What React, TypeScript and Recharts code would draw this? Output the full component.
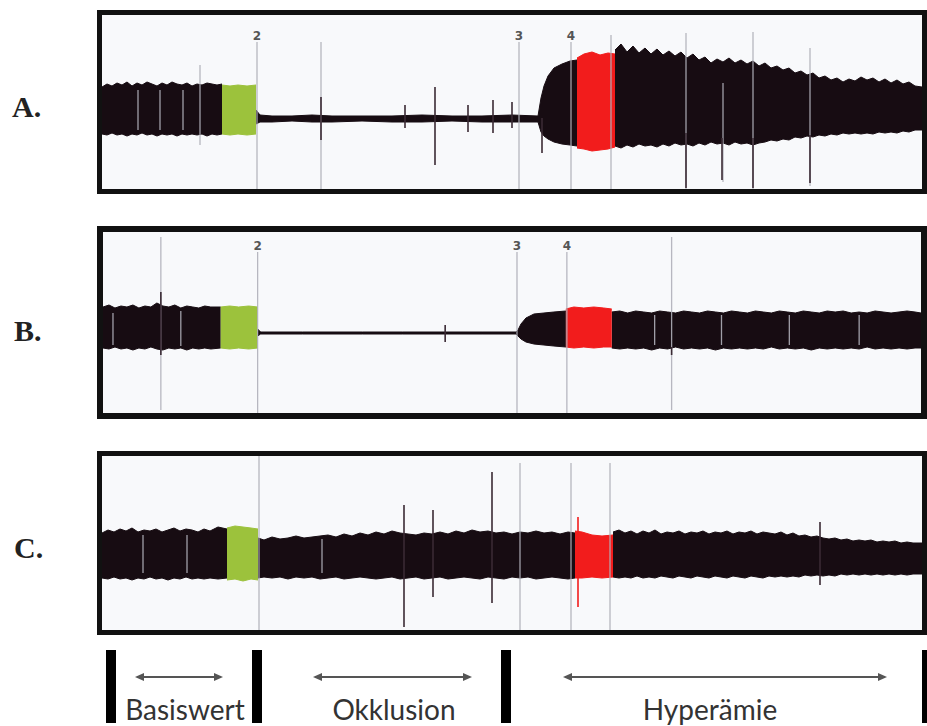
import React from 'react';
import { ComposedChart, Area, XAxis, YAxis, ReferenceLine, ReferenceDot } from 'recharts';

type Pt = [number, number, number]; // [time, low, high] amplitude envelope
type Seg = [number, number, number]; // [time, top, bottom]

// ---------------- Panel A ----------------
const A_BASE: Pt[] = [[0,-16,31],[5,-17,34],[10,-15,32],[15,-17,35],[20,-16,33],[25,-18,36],[30,-16,32],[35,-17,35],[40,-15,33],[45,-17,36],[50,-16,34],[55,-18,32],[60,-16,35],[65,-17,33],[70,-16,36],[75,-18,34],[80,-16,33],[85,-17,35],[90,-16,32],[95,-17,34],[100,-16,33],[105,-18,35],[110,-16,34],[115,-17,33],[120,-16,34]];
const A_GREEN: Pt[] = [[120,-16,33],[128,-17,32],[136,-16,33],[145,-17,32],[154,-16,33]];
const A_OCCL: Pt[] = [[154,-6,8],[158,-4,3],[170,-4,2],[190,-3,2],[210,-4,3],[230,-4,2],[260,-3,2],[290,-4,2],[320,-4,3],[350,-3,2],[380,-4,2],[410,-4,3],[436,-4,2],[439,-14,20],[442,-18,32],[446,-21,42],[452,-24,50],[460,-26,54],[468,-27,57],[475,-28,58]];
const A_RED: Pt[] = [[475,-30,60],[482,-31,64],[490,-33,66],[498,-32,63],[506,-31,65],[513,-29,64]];
const A_HYPER: Pt[] = [[513,-28,68],[519,-30,74],[525,-27,66],[531,-29,72],[537,-26,65],[543,-28,70],[549,-27,64],[555,-29,69],[561,-26,63],[567,-28,67],[573,-25,62],[579,-27,66],[585,-26,60],[591,-28,64],[597,-25,58],[603,-27,61],[609,-24,55],[615,-26,59],[621,-25,56],[627,-27,60],[633,-24,55],[639,-26,58],[645,-25,54],[651,-27,57],[657,-25,52],[663,-24,55],[669,-22,50],[675,-23,52],[681,-21,48],[687,-22,50],[693,-19,45],[699,-20,47],[705,-18,43],[711,-19,45],[717,-17,40],[723,-18,42],[729,-16,38],[735,-17,40],[741,-15,36],[747,-16,39],[753,-15,37],[759,-16,41],[765,-15,38],[771,-16,40],[777,-14,36],[783,-15,39],[789,-14,35],[795,-15,38],[801,-13,34],[807,-14,36],[813,-12,32],[820,-12,31]];
const A_EVENTS: Seg[] = [[98,53,-27],[219,76,-71],[509,83,-71],[584,85,-71],[621,35,-64],[651,86,-71],[708,70,-68],[36,28,-12],[58,28,-12],[81,28,-12]];
const A_MARKERS: [number, string][] = [[155,'2'],[417,'3'],[469,'4']];
const A_SPIKES: Seg[] = [[219,21,-22],[303,13,-10],[333,31,-47],[366,13,-14],[391,18,-15],[410,16,-10],[440,0,-35],[584,-15,-70],[620,-20,-62],[651,-20,-70],[708,-17,-65]];

// ---------------- Panel B ----------------
const B_BASE: Pt[] = [[0,-15,26],[6,-16,28],[12,-14,25],[18,-16,27],[24,-15,26],[30,-17,28],[36,-15,25],[42,-16,27],[48,-14,26],[54,-16,30],[60,-17,27],[66,-15,26],[72,-16,28],[78,-15,25],[84,-17,27],[90,-15,26],[96,-16,25],[102,-15,27],[108,-16,26],[118,-15,26]];
const B_GREEN: Pt[] = [[118,-15,26],[127,-16,27],[136,-15,26],[146,-16,27],[155,-15,26]];
const B_OCCL: Pt[] = [[155,-3,4],[158,-1,1],[200,-1,1],[260,-1,1],[300,-1,1],[343,-1,1],[380,-1,1],[414,-1,1],[416,-3,3],[419,-6,9],[424,-9,15],[432,-11,19],[442,-12,20],[452,-13,21],[464,-14,22]];
const B_RED: Pt[] = [[464,-14,24],[472,-15,26],[482,-14,25],[492,-15,26],[502,-14,25],[510,-14,24]];
const B_HYPER: Pt[] = [[510,-15,21],[518,-16,22],[526,-15,20],[534,-16,22],[542,-15,21],[550,-17,20],[558,-15,22],[566,-16,21],[574,-14,20],[582,-16,22],[590,-15,21],[598,-16,20],[606,-15,22],[614,-17,21],[622,-15,20],[630,-16,22],[638,-15,21],[646,-16,20],[654,-15,22],[662,-16,21],[670,-14,20],[678,-16,22],[686,-15,21],[694,-16,20],[702,-15,22],[710,-17,21],[718,-15,20],[726,-16,22],[734,-15,21],[742,-16,22],[750,-15,20],[758,-16,21],[766,-14,20],[774,-16,22],[782,-15,21],[790,-16,20],[798,-15,21],[806,-16,22],[814,-15,21],[820,-15,20]];
const B_EVENTS: Seg[] = [[58,96,-77],[570,96,-77],[10,20,-12],[78,22,-13],[553,18,-12],[620,18,-12],[688,18,-12],[758,18,-12]];
const B_MARKERS: [number, string][] = [[155,'2'],[415,'3'],[465,'4']];
const B_SPIKES: Seg[] = [[58,41,-22],[343,8,-9],[570,-14,-22]];

// ---------------- Panel C ----------------
const C_BASE: Pt[] = [[0,-25,20],[6,-26,23],[12,-24,21],[18,-26,24],[24,-25,22],[30,-27,25],[36,-25,21],[42,-26,23],[48,-24,22],[54,-26,24],[60,-25,21],[66,-27,23],[72,-25,25],[78,-26,22],[84,-24,24],[90,-26,23],[96,-25,21],[102,-26,24],[108,-25,22],[116,-26,26],[125,-25,24]];
const C_GREEN: Pt[] = [[125,-27,25],[133,-26,27],[141,-28,26],[149,-26,25],[156,-27,24]];
const C_MID: Pt[] = [[156,-25,15],[162,-24,13],[170,-25,16],[178,-24,14],[186,-26,15],[194,-24,17],[202,-25,15],[210,-24,16],[218,-26,17],[226,-25,18],[234,-24,16],[242,-26,19],[250,-25,17],[258,-24,20],[266,-25,18],[274,-26,21],[282,-25,19],[290,-24,22],[298,-26,20],[306,-25,19],[314,-24,18],[322,-26,20],[330,-25,19],[338,-24,21],[346,-26,19],[354,-25,22],[362,-24,20],[370,-25,23],[378,-26,21],[386,-24,22],[394,-25,20],[402,-26,21],[410,-24,19],[418,-25,21],[426,-24,20],[434,-26,22],[442,-25,20],[450,-24,21],[458,-25,19],[466,-26,21],[473,-25,20]];
const C_RED: Pt[] = [[473,-25,22],[480,-25,21],[490,-24,18],[500,-25,17],[511,-24,18]];
const C_HYPER: Pt[] = [[511,-24,21],[517,-25,23],[523,-24,20],[529,-25,22],[535,-23,19],[541,-25,22],[547,-24,20],[553,-25,23],[559,-23,19],[565,-24,21],[571,-25,20],[577,-23,22],[583,-24,19],[589,-25,21],[595,-23,20],[601,-24,22],[607,-25,19],[613,-23,21],[619,-24,20],[625,-25,22],[631,-23,19],[637,-24,21],[643,-25,20],[649,-23,22],[655,-24,19],[661,-25,21],[667,-23,20],[673,-24,19],[679,-23,21],[685,-24,18],[691,-23,20],[697,-24,17],[703,-22,18],[709,-23,16],[715,-22,17],[721,-23,15],[727,-22,14],[733,-23,15],[739,-21,13],[745,-22,14],[751,-21,12],[757,-22,13],[763,-21,12],[769,-22,13],[775,-21,11],[781,-22,12],[787,-21,11],[793,-22,12],[799,-21,10],[805,-22,11],[811,-21,10],[820,-21,10]];
const C_EVENTS: Seg[] = [[157,97,-77],[418,90,-77],[469,90,-77],[508,90,-77],[41,18,-20],[85,18,-20],[220,14,-20]];
const C_MARKERS: [number, string][] = [];
const C_SPIKES: Seg[] = [[302,48,-74],[331,43,-44],[390,81,-50],[718,31,-32]];
const C_RED_SPIKES: Seg[] = [[476,36,-54]];

// ---------------- Phases ----------------
const PHASE_NAMES = ['Basiswert', 'Okklusion', 'Hyperämie'];
const PHASE_BOUNDS = [9, 155, 404, 825];
const PHASE_ARROWS: [number, number][] = [[33, 121], [211, 370], [461, 785]];
const PHASE_LABEL_AT = [83, 292, 608];

const PANEL_LABELS = ['A.', 'B.', 'C.'];

function mergeRows(series: Record<string, Pt[][]>) {
  const map = new Map<number, any>();
  for (const [key, parts] of Object.entries(series)) {
    for (const part of parts) {
      for (const [t, lo, hi] of part) {
        const row = map.get(t) ?? { t };
        row[key] = [lo, hi];
        map.set(t, row);
      }
    }
  }
  return [...map.values()].sort((a, b) => a.t - b.t);
}

const INK = '#170c12';
const GREEN = '#9cc23c';
const RED = '#f21c1c';
const EVENT = 'rgba(175,175,185,0.9)';

type PanelProps = {
  rows: any[];
  yDomain: [number, number];
  events: Seg[];
  markers: [number, string][];
  markerTop: number;
  spikes: Seg[];
  redSpikes?: Seg[];
  width: number;
  height: number;
};

function Panel({ rows, yDomain, events, markers, markerTop, spikes, redSpikes = [], width, height }: PanelProps) {
  return (
    <ComposedChart width={width} height={height} data={rows} margin={{ top: 0, right: 0, bottom: 0, left: 0 }}>
      <XAxis type="number" dataKey="t" domain={[0, 820]} hide allowDataOverflow />
      <YAxis type="number" domain={yDomain} hide allowDataOverflow />
      <Area dataKey="black" type="linear" stroke={INK} strokeWidth={1} fill={INK} fillOpacity={1} isAnimationActive={false} dot={false} activeDot={false} />
      <Area dataKey="green" type="linear" stroke={GREEN} strokeWidth={1} fill={GREEN} fillOpacity={1} isAnimationActive={false} dot={false} activeDot={false} />
      <Area dataKey="red" type="linear" stroke={RED} strokeWidth={1} fill={RED} fillOpacity={1} isAnimationActive={false} dot={false} activeDot={false} />
      {events.map(([t, top, bot], i) => (
        <ReferenceLine key={'e' + i} segment={[{ x: t, y: top }, { x: t, y: bot }]} stroke={EVENT} strokeWidth={1.3} ifOverflow="visible" />
      ))}
      {markers.map(([t, label], i) => (
        <ReferenceLine
          key={'m' + i}
          segment={[{ x: t, y: markerTop }, { x: t, y: yDomain[0] }]}
          stroke={EVENT}
          strokeWidth={1.3}
          ifOverflow="visible"
          label={{ value: label, position: 'top', offset: 2, fill: '#555', fontSize: 12, fontWeight: 'bold', fontFamily: 'DejaVu Sans' }}
        />
      ))}
      {spikes.map(([t, top, bot], i) => (
        <ReferenceLine key={'s' + i} segment={[{ x: t, y: top }, { x: t, y: bot }]} stroke="#3a2a34" strokeWidth={1.6} ifOverflow="visible" />
      ))}
      {redSpikes.map(([t, top, bot], i) => (
        <ReferenceLine key={'r' + i} segment={[{ x: t, y: top }, { x: t, y: bot }]} stroke={RED} strokeWidth={1.6} ifOverflow="visible" />
      ))}
    </ComposedChart>
  );
}

const ArrowShape = (p: any) => {
  const { x1, y1, x2 } = p;
  const y = y1;
  const L = 9;
  const W = 4;
  return (
    <g>
      <line x1={x1 + 2} y1={y} x2={x2 - 2} y2={y} stroke="#555" strokeWidth={2} />
      <polygon points={`${x1},${y} ${x1 + L},${y - W} ${x1 + L},${y + W}`} fill="#555" />
      <polygon points={`${x2},${y} ${x2 - L},${y - W} ${x2 - L},${y + W}`} fill="#555" />
    </g>
  );
};

function PhaseStrip() {
  const rows = PHASE_BOUNDS.map((t) => ({ t }));
  return (
    <ComposedChart width={830} height={76} data={rows} margin={{ top: 0, right: 0, bottom: 0, left: 0 }} style={{ overflow: 'visible' }}>
      <XAxis type="number" dataKey="t" domain={[-5, 825]} hide allowDataOverflow />
      <YAxis type="number" domain={[0, 76]} reversed hide allowDataOverflow />
      {PHASE_BOUNDS.map((t, i) => (
        <ReferenceLine key={'b' + i} segment={[{ x: t, y: 0 }, { x: t, y: 73 }]} stroke="#000" strokeWidth={10} ifOverflow="visible" />
      ))}
      {PHASE_ARROWS.map(([a, b], i) => (
        <ReferenceLine key={'a' + i} segment={[{ x: a, y: 27 }, { x: b, y: 27 }]} shape={ArrowShape} ifOverflow="visible" />
      ))}
      {PHASE_NAMES.map((name, i) => (
        <ReferenceDot
          key={'n' + i}
          x={PHASE_LABEL_AT[i]}
          y={70}
          r={0}
          ifOverflow="visible"
          shape={(p: any) => (
            <text x={p.cx} y={p.cy} textAnchor="middle" fontFamily="Lato, 'Open Sans', sans-serif" fontSize={28} fill="#333">
              {name}
            </text>
          )}
        />
      ))}
    </ComposedChart>
  );
}

const rowsA = mergeRows({ black: [A_BASE, A_OCCL, A_HYPER], green: [A_GREEN], red: [A_RED] });
const rowsB = mergeRows({ black: [B_BASE, B_OCCL, B_HYPER], green: [B_GREEN], red: [B_RED] });
const rowsC = mergeRows({ black: [C_BASE, C_MID, C_HYPER], green: [C_GREEN], red: [C_RED] });

const boxStyle = (top: number, height: number, border: number): React.CSSProperties => ({
  position: 'absolute',
  left: 97,
  top,
  width: 830,
  height,
  border: `${border}px solid #111`,
  boxSizing: 'border-box',
  background: '#f8f9fb',
  overflow: 'hidden',
});

export default function App() {
  return (
    <div style={{ position: 'absolute', left: 0, top: 0, width: 927, height: 726, background: '#fff', overflow: 'hidden' }}>
      <svg width={97} height={726} style={{ position: 'absolute', left: 0, top: 0 }}>
        {PANEL_LABELS.map((l, i) => (
          <text key={l} x={[12, 14, 14][i]} y={[117, 341, 558][i]} fontFamily="'Liberation Serif', 'DejaVu Serif', serif" fontWeight="bold" fontSize={30} fill="#222">
            {l}
          </text>
        ))}
      </svg>
      <div style={boxStyle(10, 184, 5)}>
        <Panel rows={rowsA} yDomain={[-71, 103]} events={A_EVENTS} markers={A_MARKERS} markerTop={76} spikes={A_SPIKES} width={820} height={174} />
      </div>
      <div style={boxStyle(226, 193, 6)}>
        <Panel rows={rowsB} yDomain={[-80, 101]} events={B_EVENTS} markers={B_MARKERS} markerTop={81} spikes={B_SPIKES} width={818} height={181} />
      </div>
      <div style={boxStyle(451, 184, 5)}>
        <Panel rows={rowsC} yDomain={[-77, 97]} events={C_EVENTS} markers={C_MARKERS} markerTop={90} spikes={C_SPIKES} redSpikes={C_RED_SPIKES} width={820} height={174} />
      </div>
      <div style={{ position: 'absolute', left: 97, top: 650 }}>
        <PhaseStrip />
      </div>
    </div>
  );
}
